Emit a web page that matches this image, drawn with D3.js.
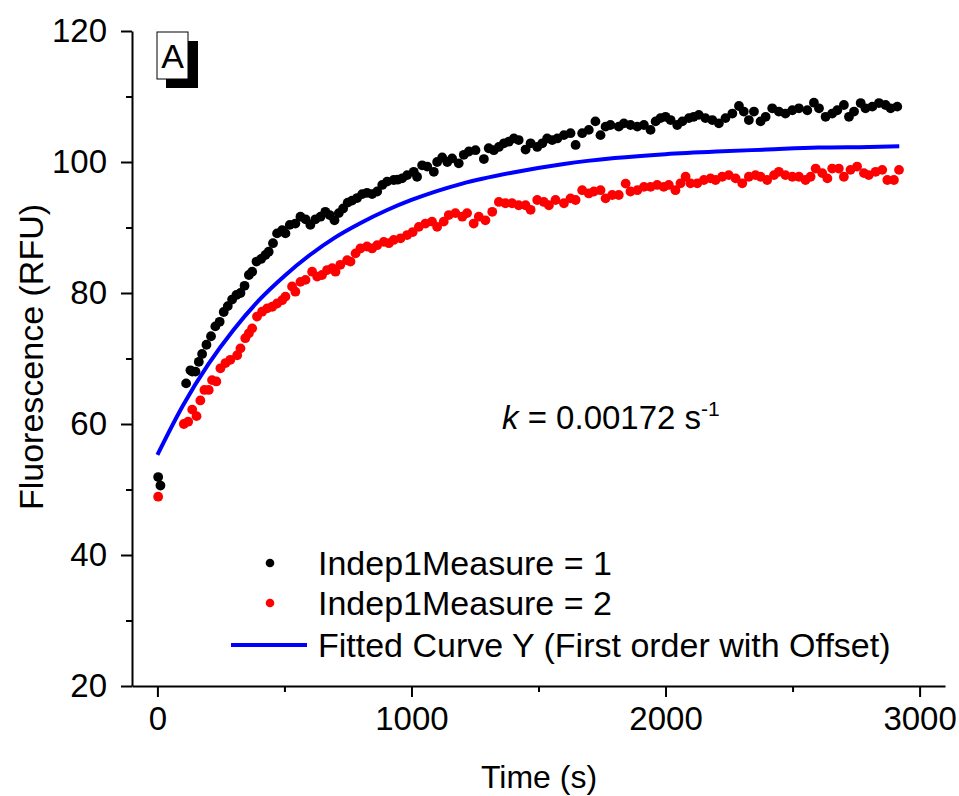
<!DOCTYPE html>
<html>
<head>
<meta charset="utf-8">
<script src="https://cdn.jsdelivr.net/npm/d3@7"></script>
<style>
  body { margin: 0; background: #fff; }
  svg { font-family: "Liberation Sans", Arial, sans-serif; }
</style>
</head>
<body>
<div id="chart"></div>
<script>
// [time (s), fluorescence (RFU)]
const measure1 = [
  [3,51.9],[12,50.6],
  [113,66.2],[130,68.2],[137,68.0],[150,68.0],[163,69.5],[176,70.7],[193,72.1],[211,73.4],[228,74.9],[245,75.6],
  [261,77.1],[277,78.0],[294,79.0],[311,79.7],[327,80.0],[343,81.1],[360,82.75],[373,83.25],[390,84.8],[408,85.2],
  [425,85.8],[438,86.3],[455,87.6],[471,89.1],[491,89.6],[504,89.1],[521,90.4],[543,90.6],[563,91.65],[583,91.25],
  [602,90.4],[622,91.25],[642,91.65],[661,92.4],[678,91.9],[697,91.1],[714,92.2],[731,92.9],[749,93.8],[766,94.1],
  [786,94.5],[806,95.1],[825,95.3],[845,95.1],[865,95.5],[885,96.5],[904,97.0],[930,97.25],[945,97.3],[963,97.5],
  [983,98.0],[1009,98.5],[1022,97.75],[1042,99.5],[1062,99.3],[1088,98.5],[1101,100.0],[1121,100.7],[1141,100.0],
  [1160,100.55],[1186,99.8],[1206,101.1],[1226,101.6],[1252,101.8],[1285,100.45],[1304,102.1],[1324,101.8],
  [1344,102.3],[1364,102.85],[1383,103.1],[1403,103.6],[1422,103.35],[1449,101.9],[1469,102.85],[1495,102.3],
  [1515,102.85],[1534,103.6],[1554,103.35],[1574,103.6],[1600,104.1],[1626,104.4],[1646,102.6],[1672,104.4],
  [1698,104.9],[1724,106.2],[1744,104.1],[1764,105.4],[1783,105.65],[1816,105.4],[1836,105.9],[1862,105.65],
  [1889,105.4],[1915,105.65],[1941,104.9],[1961,106.2],[1980,106.7],[2000,106.9],[2020,106.4],[2046,105.65],
  [2066,106.2],[2092,106.7],[2111,106.9],[2131,107.2],[2157,106.7],[2184,106.4],[2210,105.9],[2236,106.7],
  [2263,107.4],[2289,108.55],[2308,107.7],[2328,106.4],[2348,107.7],[2374,106.2],[2394,106.9],[2420,108.2],
  [2446,107.7],[2472,107.4],[2499,107.9],[2525,108.2],[2558,107.9],[2584,109.05],[2604,108.2],[2630,106.9],
  [2656,107.4],[2676,107.9],[2702,108.7],[2722,106.9],[2742,107.7],[2768,109.0],[2787,108.2],[2814,108.45],
  [2840,109.0],[2866,108.7],[2886,108.2],[2912,108.45]
];

const measure2 = [
  [3,48.9],
  [104,60.0],[121,60.35],[137,62.2],[154,61.2],[169,63.6],[185,65.2],[202,65.2],[215,66.7],[232,66.5],[248,68.5],
  [268,69.3],[287,69.8],[314,70.5],[327,71.55],[346,73.1],[360,73.85],[373,74.6],[392,76.4],[412,77.15],[432,77.65],
  [452,77.9],[471,78.4],[491,78.9],[504,79.45],[530,81.0],[543,80.2],[563,81.7],[583,82.0],[609,83.25],[629,82.5],
  [648,82.75],[668,83.5],[688,83.8],[701,83.25],[720,84.3],[747,85.0],[760,84.8],[780,86.05],[799,86.8],[825,87.1],
  [845,86.8],[865,87.3],[891,87.8],[911,87.6],[930,88.1],[957,88.35],[983,88.85],[1005,89.3],[1029,90.1],[1055,90.6],
  [1081,90.9],[1101,90.1],[1127,90.9],[1147,91.9],[1173,92.2],[1200,91.65],[1219,92.2],[1245,90.6],[1265,91.65],
  [1291,91.1],[1318,92.4],[1344,93.9],[1370,93.7],[1396,93.7],[1422,93.4],[1449,93.4],[1469,92.7],[1495,94.2],
  [1521,93.9],[1541,93.4],[1567,94.2],[1600,93.7],[1626,94.45],[1646,94.2],[1672,95.7],[1698,95.2],[1718,95.5],
  [1744,95.7],[1764,94.45],[1790,94.96],[1816,94.96],[1843,96.7],[1862,95.5],[1889,95.7],[1915,96.2],[1941,96.2],
  [1967,96.5],[1993,96.2],[2013,96.5],[2039,95.7],[2059,96.75],[2079,97.75],[2098,96.75],[2125,96.75],[2151,97.25],
  [2177,97.5],[2197,97.25],[2223,97.75],[2249,98.0],[2276,97.5],[2302,96.75],[2328,97.75],[2354,98.0],[2374,97.75],
  [2400,97.25],[2427,98.0],[2446,98.5],[2472,98.0],[2499,97.75],[2525,97.75],[2551,97.25],[2571,97.75],[2591,99.0],
  [2617,98.3],[2637,97.5],[2656,99.0],[2682,99.0],[2702,97.75],[2728,98.8],[2754,99.3],[2781,98.3],[2800,98.0],
  [2827,98.5],[2853,98.8],[2873,97.25],[2899,97.25],[2919,98.8]
];

// fitted curve
const fitted = [
  [0,55.3],[100,62.8],[200,69.1],[300,74.4],[400,78.9],[500,82.6],[600,85.8],[700,88.5],[800,90.7],[900,92.6],
  [1000,94.2],[1200,96.7],[1400,98.4],[1600,99.7],[1800,100.6],[2000,101.2],[2200,101.6],[2400,101.9],
  [2600,102.2],[2800,102.3],[2920,102.4]
];

const xTicks = [0, 1000, 2000, 3000];
const xMinor = [500, 1500, 2500];
const yTicks = [20, 40, 60, 80, 100, 120];
const yMinor = [30, 50, 70, 90, 110];
const legendLabels = ['Indep1Measure = 1', 'Indep1Measure = 2', 'Fitted Curve Y (First order with Offset)'];

const width = 959;
const height = 796;

const svg = d3.select('#chart')
  .append('svg')
  .attr('width', width)
  .attr('height', height);

const xScale = d3.scaleLinear()
  .domain([-100, 3100])
  .range([132, 945]);

const yScale = d3.scaleLinear()
  .domain([20, 120])
  .range([686, 31]);

// axes
svg.append('g')
  .attr('transform', `translate(0, ${yScale(20)})`)
  .call(d3.axisBottom(xScale).tickValues(xTicks).tickFormat(d3.format('d'))
    .tickSize(11).tickPadding(10).tickSizeOuter(0));

svg.append('g')
  .attr('transform', `translate(0, ${yScale(20)})`)
  .call(d3.axisBottom(xScale).tickValues(xMinor).tickSize(6).tickFormat('').tickSizeOuter(0))
  .select('.domain').remove();

svg.append('g')
  .attr('transform', `translate(${xScale(-100)}, 0)`)
  .call(d3.axisLeft(yScale).tickValues(yTicks).tickFormat(d3.format('d'))
    .tickSize(11).tickPadding(14).tickSizeOuter(0));

svg.append('g')
  .attr('transform', `translate(${xScale(-100)}, 0)`)
  .call(d3.axisLeft(yScale).tickValues(yMinor).tickSize(6).tickFormat('').tickSizeOuter(0))
  .select('.domain').remove();

svg.selectAll('.domain').attr('stroke-width', 2).attr('stroke', '#000');
svg.selectAll('.tick line').attr('stroke-width', 2).attr('stroke', '#000');
svg.selectAll('.tick text')
  .attr('font-size', '33px')
  .attr('font-family', '"Liberation Sans", Arial, sans-serif')
  .attr('fill', '#000');

// axis titles
svg.append('text')
  .attr('x', 539)
  .attr('y', 788)
  .attr('text-anchor', 'middle')
  .attr('font-size', '32px')
  .text('Time (s)');

svg.append('text')
  .attr('transform', 'translate(43, 357) rotate(-90)')
  .attr('text-anchor', 'middle')
  .attr('font-size', '34px')
  .text('Fluorescence (RFU)');

// fitted curve
const line = d3.line()
  .x(d => xScale(d[0]))
  .y(d => yScale(d[1]))
  .curve(d3.curveMonotoneX);

svg.append('path')
  .datum(fitted)
  .attr('d', line)
  .attr('fill', 'none')
  .attr('stroke', '#0000ff')
  .attr('stroke-width', 4);

// points
svg.selectAll('.m1')
  .data(measure1)
  .enter()
  .append('circle')
  .attr('class', 'm1')
  .attr('cx', d => xScale(d[0]))
  .attr('cy', d => yScale(d[1]))
  .attr('r', 4.9)
  .attr('fill', '#000');

svg.selectAll('.m2')
  .data(measure2)
  .enter()
  .append('circle')
  .attr('class', 'm2')
  .attr('cx', d => xScale(d[0]))
  .attr('cy', d => yScale(d[1]))
  .attr('r', 4.9)
  .attr('fill', '#ff0000');

// panel label "A" with shadow
svg.append('rect')
  .attr('x', 166).attr('y', 41)
  .attr('width', 32).attr('height', 47)
  .attr('fill', '#000');
svg.append('rect')
  .attr('x', 157).attr('y', 32)
  .attr('width', 31).attr('height', 47)
  .attr('fill', '#fff')
  .attr('stroke', '#000')
  .attr('stroke-width', 1);
svg.append('text')
  .attr('x', 172.5)
  .attr('y', 68)
  .attr('text-anchor', 'middle')
  .attr('font-size', '34px')
  .text('A');

// rate constant
const kText = svg.append('text')
  .attr('x', 502)
  .attr('y', 429)
  .attr('font-size', '33px');
kText.append('tspan').attr('font-style', 'italic').text('k');
kText.append('tspan').text(' = 0.00172 s');
kText.append('tspan').attr('font-size', '21px').attr('dy', -13).text('-1');

// legend
const legend = svg.append('g');
const rows = [563, 603, 645];
legend.append('circle').attr('cx', 270).attr('cy', rows[0]).attr('r', 4.3).attr('fill', '#000');
legend.append('circle').attr('cx', 270).attr('cy', rows[1]).attr('r', 4.3).attr('fill', '#ff0000');
legend.append('line')
  .attr('x1', 231).attr('x2', 307)
  .attr('y1', rows[2]).attr('y2', rows[2])
  .attr('stroke', '#0000ff').attr('stroke-width', 4);

legend.selectAll('.label')
  .data(legendLabels)
  .enter()
  .append('text')
  .attr('class', 'label')
  .attr('x', 318)
  .attr('y', (d, i) => rows[i] + 12)
  .attr('font-size', '34px')
  .text(d => d);
</script>
</body>
</html>
